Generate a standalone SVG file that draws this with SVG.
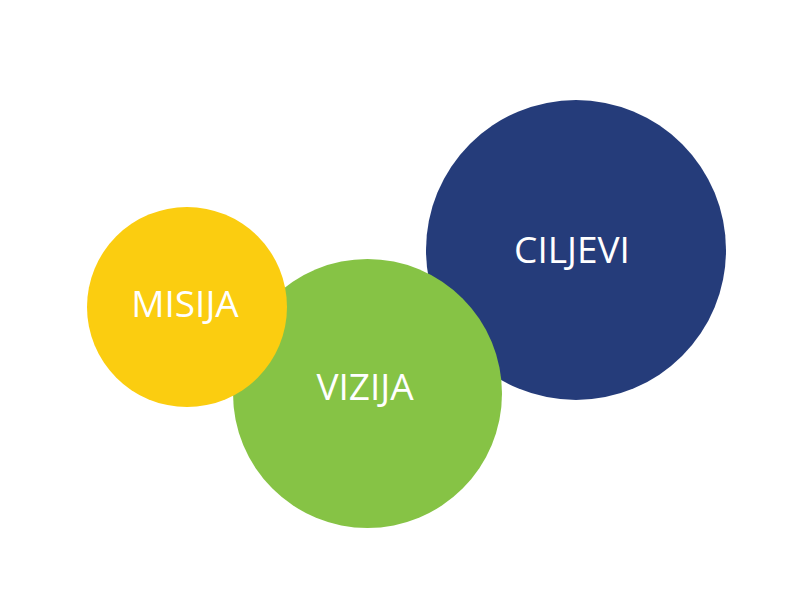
<svg xmlns="http://www.w3.org/2000/svg" width="800" height="600" viewBox="0 0 800 600">
<style>
.lbl{font-family:"Open Sans","Liberation Sans",sans-serif;font-size:37px;fill:#ffffff;text-anchor:middle}
</style>
<rect width="800" height="600" fill="#ffffff"/>
<g id="ciljevi">
<circle cx="576" cy="250" r="150" fill="#253C7A"/>
<text class="lbl" x="572" y="263">CILJEVI</text>
</g>
<g id="vizija">
<circle cx="367.5" cy="393.5" r="134.5" fill="#86C345"/>
<text class="lbl" x="365" y="400">VIZIJA</text>
</g>
<g id="misija">
<circle cx="187" cy="307" r="100" fill="#FBCD10"/>
<text class="lbl" x="185" y="317">MISIJA</text>
</g>
<g id="connectors"></g>
</svg>
